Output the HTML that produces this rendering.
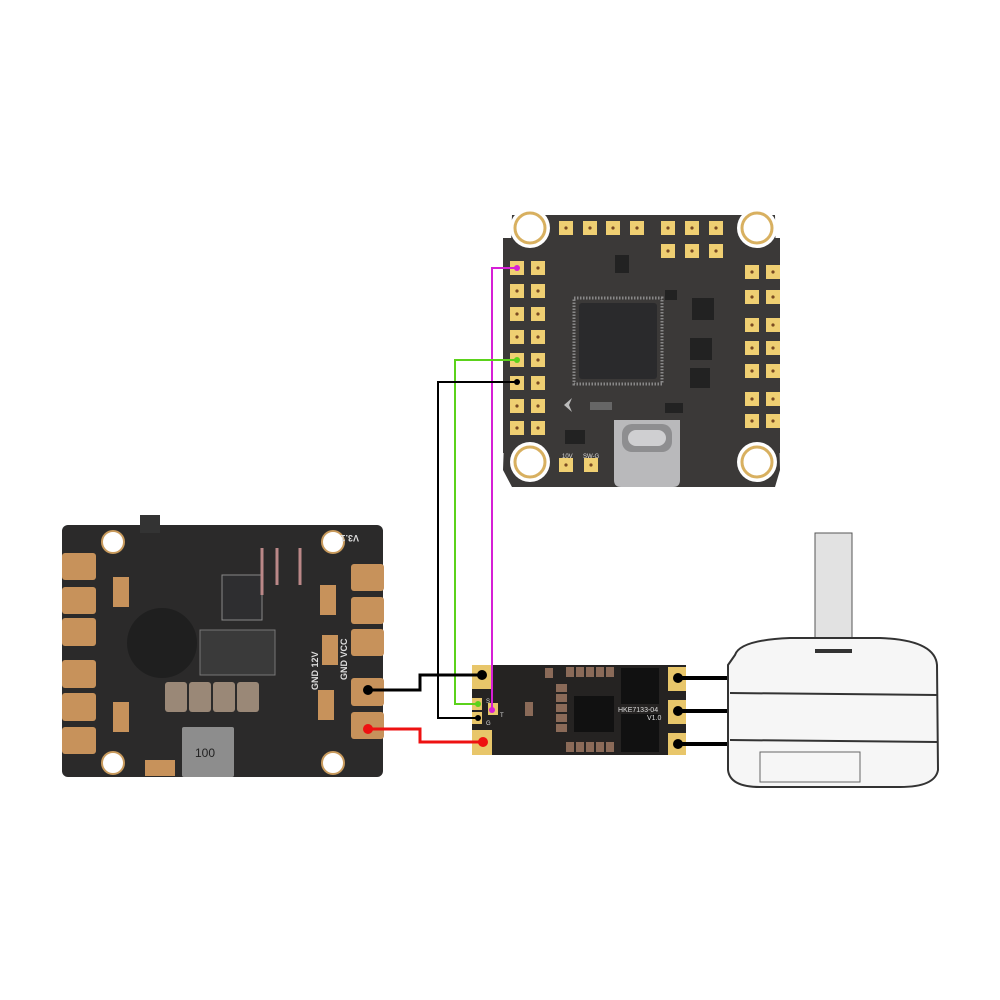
<!DOCTYPE html>
<html><head><meta charset="utf-8"><style>
html,body{margin:0;padding:0;background:#fff;width:1000px;height:1000px;overflow:hidden}
svg{display:block}
text{font-family:"Liberation Sans",sans-serif}
</style></head><body>
<svg width="1000" height="1000" viewBox="0 0 1000 1000" xmlns="http://www.w3.org/2000/svg">
<defs>
<pattern id="dot" width="1" height="1"/>
</defs>
<!-- ===== Flight controller ===== -->
<g>
<path d="M512,215 L775,215 L780,470 L775,487 L512,487 L503,470 Z" fill="#3b3938"/>
<rect x="503" y="238" width="277" height="215" fill="#3b3938"/>
<g fill="#fff">
<circle cx="530" cy="228" r="20"/><circle cx="757" cy="228" r="20"/>
<circle cx="530" cy="462" r="20"/><circle cx="757" cy="462" r="20"/>
</g>
<g fill="none" stroke="#d8b060" stroke-width="3">
<circle cx="530" cy="228" r="15"/><circle cx="757" cy="228" r="15"/>
<circle cx="530" cy="462" r="15"/><circle cx="757" cy="462" r="15"/>
</g>
<!-- pads -->
<g fill="#efcf72">
<rect x="559" y="221" width="14" height="14"/><rect x="583" y="221" width="14" height="14"/><rect x="606" y="221" width="14" height="14"/><rect x="630" y="221" width="14" height="14"/>
<rect x="661" y="221" width="14" height="14"/><rect x="685" y="221" width="14" height="14"/><rect x="709" y="221" width="14" height="14"/>
<rect x="661" y="244" width="14" height="14"/><rect x="685" y="244" width="14" height="14"/><rect x="709" y="244" width="14" height="14"/>
<rect x="510" y="261" width="14" height="14"/><rect x="531" y="261" width="14" height="14"/>
<rect x="510" y="284" width="14" height="14"/><rect x="531" y="284" width="14" height="14"/>
<rect x="510" y="307" width="14" height="14"/><rect x="531" y="307" width="14" height="14"/>
<rect x="510" y="330" width="14" height="14"/><rect x="531" y="330" width="14" height="14"/>
<rect x="510" y="353" width="14" height="14"/><rect x="531" y="353" width="14" height="14"/>
<rect x="510" y="376" width="14" height="14"/><rect x="531" y="376" width="14" height="14"/>
<rect x="510" y="399" width="14" height="14"/><rect x="531" y="399" width="14" height="14"/>
<rect x="510" y="421" width="14" height="14"/><rect x="531" y="421" width="14" height="14"/>
<rect x="745" y="265" width="14" height="14"/><rect x="766" y="265" width="14" height="14"/>
<rect x="745" y="290" width="14" height="14"/><rect x="766" y="290" width="14" height="14"/>
<rect x="745" y="318" width="14" height="14"/><rect x="766" y="318" width="14" height="14"/>
<rect x="745" y="341" width="14" height="14"/><rect x="766" y="341" width="14" height="14"/>
<rect x="745" y="364" width="14" height="14"/><rect x="766" y="364" width="14" height="14"/>
<rect x="745" y="392" width="14" height="14"/><rect x="766" y="392" width="14" height="14"/>
<rect x="745" y="414" width="14" height="14"/><rect x="766" y="414" width="14" height="14"/>
<rect x="559" y="458" width="14" height="14"/><rect x="584" y="458" width="14" height="14"/>
</g>
<g fill="#7a4a22">
<circle cx="566" cy="228" r="1.6"/><circle cx="590" cy="228" r="1.6"/><circle cx="613" cy="228" r="1.6"/><circle cx="637" cy="228" r="1.6"/>
<circle cx="668" cy="228" r="1.6"/><circle cx="692" cy="228" r="1.6"/><circle cx="716" cy="228" r="1.6"/>
<circle cx="668" cy="251" r="1.6"/><circle cx="692" cy="251" r="1.6"/><circle cx="716" cy="251" r="1.6"/>
<circle cx="538" cy="268" r="1.6"/><circle cx="517" cy="291" r="1.6"/><circle cx="538" cy="291" r="1.6"/>
<circle cx="517" cy="314" r="1.6"/><circle cx="538" cy="314" r="1.6"/><circle cx="517" cy="337" r="1.6"/><circle cx="538" cy="337" r="1.6"/>
<circle cx="538" cy="360" r="1.6"/><circle cx="538" cy="383" r="1.6"/>
<circle cx="517" cy="406" r="1.6"/><circle cx="538" cy="406" r="1.6"/><circle cx="517" cy="428" r="1.6"/><circle cx="538" cy="428" r="1.6"/>
<circle cx="752" cy="272" r="1.6"/><circle cx="773" cy="272" r="1.6"/><circle cx="752" cy="297" r="1.6"/><circle cx="773" cy="297" r="1.6"/>
<circle cx="752" cy="325" r="1.6"/><circle cx="773" cy="325" r="1.6"/><circle cx="752" cy="348" r="1.6"/><circle cx="773" cy="348" r="1.6"/>
<circle cx="752" cy="371" r="1.6"/><circle cx="773" cy="371" r="1.6"/><circle cx="752" cy="399" r="1.6"/><circle cx="773" cy="399" r="1.6"/>
<circle cx="752" cy="421" r="1.6"/><circle cx="773" cy="421" r="1.6"/>
<circle cx="566" cy="465" r="1.6"/><circle cx="591" cy="465" r="1.6"/>
</g>
<rect x="574" y="298" width="88" height="86" fill="none" stroke="#888" stroke-width="3" stroke-dasharray="1.5 1.5"/>
<rect x="579" y="303" width="78" height="76" rx="3" fill="#2a2a2c"/>
<g fill="#222">
<rect x="615" y="255" width="14" height="18"/><rect x="692" y="298" width="22" height="22"/><rect x="690" y="338" width="22" height="22"/>
<rect x="690" y="368" width="20" height="20"/><rect x="665" y="290" width="12" height="10"/><rect x="565" y="430" width="20" height="14"/>
<rect x="665" y="403" width="18" height="10"/>
</g>
<rect x="590" y="402" width="22" height="8" fill="#666"/>
<path d="M614,420 L680,420 L680,480 Q680,487 673,487 L621,487 Q614,487 614,480 Z" fill="#b9b9bb"/>
<rect x="622" y="424" width="50" height="28" rx="10" fill="#8e8e90"/>
<rect x="628" y="430" width="38" height="16" rx="8" fill="#cfcfd1"/>
<polygon points="572,398 564,405 572,412 569,405" fill="#bbb"/>
<g fill="#ddd" font-size="6">
<text x="562" y="458">10V</text><text x="583" y="458">SW-G</text>
</g>
</g>

<!-- ===== PDB ===== -->
<g>
<rect x="62" y="525" width="321" height="252" rx="6" fill="#2b2a2a"/>
<rect x="140" y="515" width="20" height="18" fill="#333"/>
<g fill="#fff" stroke="#c89a5c" stroke-width="2">
<circle cx="113" cy="542" r="11"/><circle cx="333" cy="542" r="11"/><circle cx="113" cy="763" r="11"/><circle cx="333" cy="763" r="11"/>
</g>
<g fill="#c7925b">
<rect x="62" y="553" width="34" height="27" rx="3"/><rect x="62" y="587" width="34" height="27" rx="3"/>
<rect x="62" y="618" width="34" height="28" rx="3"/><rect x="62" y="660" width="34" height="28" rx="3"/>
<rect x="62" y="693" width="34" height="28" rx="3"/><rect x="62" y="727" width="34" height="27" rx="3"/>
<rect x="351" y="564" width="33" height="27" rx="3"/><rect x="351" y="597" width="33" height="27" rx="3"/>
<rect x="351" y="629" width="33" height="27" rx="3"/><rect x="351" y="678" width="33" height="28" rx="3"/>
<rect x="351" y="712" width="33" height="27" rx="3"/>
<rect x="113" y="577" width="16" height="30"/><rect x="113" y="702" width="16" height="30"/>
<rect x="320" y="585" width="16" height="30"/><rect x="322" y="635" width="16" height="30"/><rect x="318" y="690" width="16" height="30"/>
<rect x="145" y="760" width="30" height="16"/>
</g>
<circle cx="162" cy="643" r="35" fill="#1f1f1f"/>
<rect x="222" y="575" width="40" height="45" fill="#2e2e30" stroke="#888" stroke-width="1"/>
<rect x="200" y="630" width="75" height="45" fill="#3a3a3a" stroke="#777"/>
<g fill="#9a8877">
<rect x="165" y="682" width="22" height="30" rx="3"/><rect x="189" y="682" width="22" height="30" rx="3"/>
<rect x="213" y="682" width="22" height="30" rx="3"/><rect x="237" y="682" width="22" height="30" rx="3"/>
</g>
<rect x="182" y="727" width="52" height="50" rx="2" fill="#8d8d8d"/>
<text x="195" y="757" font-size="12" fill="#222">100</text>
<g stroke="#b88" stroke-width="3" fill="none"><line x1="262" y1="548" x2="262" y2="595"/><line x1="277" y1="548" x2="277" y2="585"/><line x1="300" y1="548" x2="300" y2="585"/></g>
<g fill="#ddd" font-size="9" font-weight="bold">
<text x="345" y="545" transform="rotate(180 352 540)">V3.1</text>
<text x="318" y="690" transform="rotate(-90 318 690)">GND 12V</text>
<text x="347" y="680" transform="rotate(-90 347 680)">GND VCC</text>
</g>
</g>

<!-- ===== ESC ===== -->
<g>
<rect x="472" y="665" width="214" height="90" fill="#252322"/>
<g fill="#e8c66a">
<rect x="472" y="665" width="20" height="24"/><rect x="472" y="730" width="20" height="25"/>
<rect x="668" y="667" width="18" height="24"/><rect x="668" y="700" width="18" height="24"/><rect x="668" y="733" width="18" height="22"/>
<rect x="472" y="698" width="10" height="12"/><rect x="472" y="712" width="10" height="12"/><rect x="488" y="703" width="10" height="12"/>
</g>
<g fill="#111"><rect x="621" y="668" width="38" height="36"/><rect x="621" y="714" width="38" height="38"/><rect x="574" y="696" width="40" height="36"/></g>
<g fill="#8a6a58">
<rect x="566" y="667" width="8" height="10"/><rect x="576" y="667" width="8" height="10"/><rect x="586" y="667" width="8" height="10"/><rect x="596" y="667" width="8" height="10"/><rect x="606" y="667" width="8" height="10"/>
<rect x="566" y="742" width="8" height="10"/><rect x="576" y="742" width="8" height="10"/><rect x="586" y="742" width="8" height="10"/><rect x="596" y="742" width="8" height="10"/><rect x="606" y="742" width="8" height="10"/>
<rect x="556" y="684" width="11" height="8"/><rect x="556" y="694" width="11" height="8"/><rect x="556" y="704" width="11" height="8"/><rect x="556" y="714" width="11" height="8"/><rect x="556" y="724" width="11" height="8"/>
<rect x="525" y="702" width="8" height="14"/><rect x="545" y="668" width="8" height="10"/>
</g>
<g fill="#ddd" font-size="7"><text x="618" y="712">HKE7133-04</text><text x="647" y="720">V1.0</text><text x="486" y="703" font-size="6">S</text><text x="500" y="717" font-size="6">T</text><text x="486" y="725" font-size="6">G</text></g>
</g>

<!-- ===== Motor ===== -->
<g stroke="#333" fill="#f6f6f6">
<rect x="815" y="533" width="37" height="120" fill="#e2e2e2" stroke="#555"/>
<path d="M735,655 Q740,640 790,638 L880,638 Q935,640 937,665 L938,770 Q935,787 900,787 L760,787 Q730,787 728,770 L728,665 Z" stroke-width="2"/>
<line x1="730" y1="693" x2="937" y2="695" stroke-width="2"/>
<line x1="730" y1="740" x2="937" y2="742" stroke-width="2"/>
<rect x="760" y="752" width="100" height="30" fill="none" stroke="#666"/>
<line x1="815" y1="651" x2="852" y2="651" stroke-width="4"/>
</g>

<!-- ===== Wires ===== -->
<g fill="none" stroke-width="2">
<polyline points="517,268 492,268 492,710" stroke="#d61fd6"/>
<polyline points="517,360 455,360 455,704 478,704" stroke="#5bd21b"/>
<polyline points="517,382 438,382 438,718 478,718" stroke="#000"/>
</g>
<g fill="none" stroke-width="3">
<polyline points="368,690 420,690 420,675 482,675" stroke="#000"/>
<polyline points="368,729 420,729 420,742 483,742" stroke="#ee1111"/>
<line x1="678" y1="678" x2="727" y2="678" stroke="#000" stroke-width="4"/>
<line x1="678" y1="711" x2="727" y2="711" stroke="#000" stroke-width="4"/>
<line x1="678" y1="744" x2="727" y2="744" stroke="#000" stroke-width="4"/>
</g>
<g>
<circle cx="517" cy="268" r="3" fill="#d61fd6"/><circle cx="492" cy="710" r="3" fill="#d61fd6"/>
<circle cx="517" cy="360" r="3" fill="#5bd21b"/><circle cx="478" cy="704" r="3" fill="#5bd21b"/>
<circle cx="517" cy="382" r="3" fill="#000"/><circle cx="478" cy="718" r="3" fill="#000"/>
<circle cx="368" cy="690" r="5" fill="#000"/><circle cx="482" cy="675" r="5" fill="#000"/>
<circle cx="368" cy="729" r="5" fill="#ee1111"/><circle cx="483" cy="742" r="5" fill="#ee1111"/>
<circle cx="678" cy="678" r="5" fill="#000"/><circle cx="678" cy="711" r="5" fill="#000"/><circle cx="678" cy="744" r="5" fill="#000"/>
</g>
</svg>
</body></html>
